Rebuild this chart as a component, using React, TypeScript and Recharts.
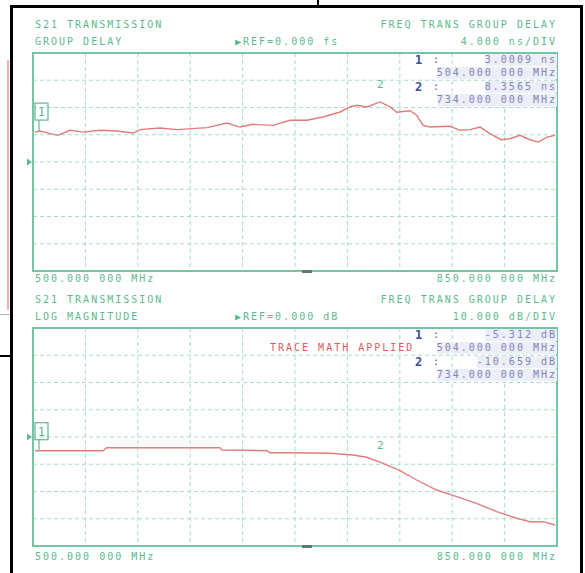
import React from 'react';
import { LineChart, Line, XAxis, YAxis, CartesianGrid, ReferenceArea, ReferenceDot } from 'recharts';

// ---------- data ----------
const delayFreqMHz = [501.3, 504.7, 511.4, 516.7, 524.7, 533.4, 544.8, 556.1, 566.8, 571.5, 584.8, 596.2, 606.2, 616.2, 629.6, 638.3, 646.9, 660.3, 671.7, 682.8, 693.7, 705.1, 711.7, 716.2, 722.9, 731.8, 738.5, 742.9, 751.8, 756.3, 760.5, 765.2, 778.5, 785.2, 791.9, 798.6, 805.3, 812.6, 818.7, 825.3, 832.0, 837.4, 843.3, 848.7];
const delayNs = [4.39, 4.54, 4.16, 3.91, 4.65, 4.39, 4.65, 4.54, 4.25, 4.75, 4.98, 4.75, 4.9, 5.04, 5.72, 5.13, 5.53, 5.38, 6.12, 6.12, 6.61, 7.34, 8.08, 8.33, 8.08, 8.82, 8.08, 7.3, 7.52, 6.86, 5.38, 5.13, 5.24, 4.65, 4.75, 5.13, 4.16, 3.27, 3.42, 3.91, 3.27, 2.92, 3.66, 3.91];

const magFreqMHz = [501.3, 546.8, 549.2, 578.1, 624.9, 626.0, 656.1, 658.3, 671.7, 698.4, 713.7, 722.9, 733.8, 745.1, 756.3, 769.6, 783.0, 796.3, 809.7, 823.1, 832.0, 840.8, 848.7];
const magDb = [-5.03, -5.03, -3.93, -3.93, -3.93, -4.77, -5.03, -5.76, -5.76, -5.98, -6.61, -7.45, -9.65, -12.37, -15.78, -19.45, -21.91, -24.33, -27.41, -29.83, -31.08, -31.08, -32.3];

const freqTicks = [500, 535, 570, 605, 640, 675, 710, 745, 780, 815, 850];
const delayTicks = [-16, -12, -8, -4, 0, 4, 8, 12, 16];
const magTicks = [-40, -30, -20, -10, 0, 10, 20, 30, 40];

const marker1MHz = 504;
const marker2MHz = 734;
const midMarkMHz = 683;

const upperTexts = {
  title: 'S21 TRANSMISSION',
  format: 'GROUP DELAY',
  ref: '\u25B6REF=0.000 fs',
  mode: 'FREQ TRANS GROUP DELAY',
  scale: '4.000 ns/DIV',
  m1val: '3.0009 ns',
  m1freq: '504.000 000 MHz',
  m2val: '8.3565 ns',
  m2freq: '734.000 000 MHz',
};
const lowerTexts = {
  title: 'S21 TRANSMISSION',
  format: 'LOG MAGNITUDE',
  ref: '\u25B6REF=0.000 dB',
  mode: 'FREQ TRANS GROUP DELAY',
  scale: '10.000 dB/DIV',
  m1val: '-5.312 dB',
  m1freq: '504.000 000 MHz',
  m2val: '-10.659 dB',
  m2freq: '734.000 000 MHz',
};
const startLabel = '500.000 000 MHz';
const stopLabel = '850.000 000 MHz';
const traceMath = 'TRACE MATH APPLIED';

// ---------- styles ----------
const GREEN = '#5bb98f';
const GRID = '#a9dcc6';
const BORDER = '#72c6a2';
const TRACE = '#e27c7c';
const BLUE = '#3d4c9e';
const READ = '#7f86b4';

const font: React.CSSProperties = {
  position: 'absolute',
  fontFamily: '"DejaVu Sans Mono", monospace',
  fontSize: 10,
  letterSpacing: 2,
  lineHeight: '12px',
  whiteSpace: 'pre',
  color: GREEN,
};

function T(props: { x?: number; r?: number; y: number; c?: string; bg?: string; bold?: boolean; size?: number; children: React.ReactNode }) {
  const st: React.CSSProperties = { ...font, top: props.y - 6 };
  if (props.x !== undefined) st.left = props.x;
  if (props.r !== undefined) st.right = 585 - props.r - 2;
  if (props.c) st.color = props.c;
  if (props.bg) st.background = props.bg;
  if (props.bold) st.fontWeight = 'bold';
  if (props.size) st.fontSize = props.size;
  return <div style={st}>{props.children}</div>;
}

const refArrow = (p: any) => (
  <polygon points={`${p.cx - 6},${p.cy - 3.5} ${p.cx - 6},${p.cy + 3.5} ${p.cx - 1},${p.cy}`} fill={GREEN} />
);
const m1Shape = (p: any) => (
  <g>
    <rect x={p.cx - 4} y={p.cy - 28} width={13} height={17} fill="none" stroke={GREEN} strokeWidth={1.2} />
    <text x={p.cx + 2.5} y={p.cy - 15} textAnchor="middle" fontSize={12} fontFamily='"DejaVu Sans Mono", monospace' fill={GREEN}>1</text>
    <line x1={p.cx} y1={p.cy - 11} x2={p.cx} y2={p.cy} stroke={GREEN} strokeWidth={1.2} />
  </g>
);
const m2Shape = (p: any) => (
  <text x={p.cx - 3} y={p.cy - 14} textAnchor="middle" fontSize={11} fontFamily='"DejaVu Sans Mono", monospace' fill={GREEN}>2</text>
);
const midMark = (p: any) => <rect x={p.cx - 5} y={p.cy - 1} width={10} height={3} fill="#5a7c6c" />;

function Panel(props: { top: number; data: { f: number; v: number }[]; ticks: number[]; m1: number; m2: number }) {
  const lo = props.ticks[0];
  const hi = props.ticks[props.ticks.length - 1];
  return (
    <div style={{ position: 'absolute', left: 0, top: props.top }}>
      <LineChart width={585} height={290} data={props.data} margin={{ top: 53, right: 28, bottom: 19, left: 33 }}>
        <XAxis dataKey="f" type="number" domain={[500, 850]} ticks={freqTicks} hide />
        <YAxis type="number" domain={[lo, hi]} ticks={props.ticks} hide />
        <CartesianGrid stroke={GRID} strokeDasharray="4 3" strokeWidth={1} />
        <ReferenceArea x1={500} x2={850} y1={lo} y2={hi} fill="none" fillOpacity={0} stroke={BORDER} strokeWidth={2} ifOverflow="visible" />
        <Line dataKey="v" type="linear" stroke={TRACE} strokeWidth={1.4} dot={false} isAnimationActive={false} />
        <ReferenceDot x={500} y={0} shape={refArrow} ifOverflow="visible" />
        <ReferenceDot x={marker1MHz} y={props.m1} shape={m1Shape} ifOverflow="visible" />
        <ReferenceDot x={marker2MHz} y={props.m2} shape={m2Shape} ifOverflow="visible" />
        <ReferenceDot x={midMarkMHz} y={lo} shape={midMark} ifOverflow="visible" />
      </LineChart>
    </div>
  );
}

function Header(props: { y0: number; t: typeof upperTexts }) {
  const y = props.y0;
  const t = props.t;
  return (
    <>
      <T x={35} y={y}>{t.title}</T>
      <T x={35} y={y + 17}>{t.format}</T>
      <T x={235} y={y + 17}>{t.ref}</T>
      <T r={555} y={y}>{t.mode}</T>
      <T r={555} y={y + 17}>{t.scale}</T>
      <T x={415} y={y + 35} c={BLUE} bold size={12}>1</T>
      <T x={433} y={y + 35} c={BLUE}>:</T>
      <T r={555} y={y + 35} c={READ} bg="#eceef8">{t.m1val}</T>
      <T r={555} y={y + 48} c={READ} bg="#eceef8">{t.m1freq}</T>
      <T x={415} y={y + 62} c={BLUE} bold size={12}>2</T>
      <T x={433} y={y + 62} c={BLUE}>:</T>
      <T r={555} y={y + 62} c={READ} bg="#eceef8">{t.m2val}</T>
      <T r={555} y={y + 75} c={READ} bg="#eceef8">{t.m2freq}</T>
    </>
  );
}

export default function App() {
  const upper = delayFreqMHz.map((f, i) => ({ f, v: delayNs[i] }));
  const lower = magFreqMHz.map((f, i) => ({ f, v: magDb[i] }));
  return (
    <div style={{ position: 'absolute', left: 0, top: 0, width: 585, height: 573, background: '#ffffff', overflow: 'hidden' }}>
      {/* surrounding frame / clutter */}
      <div style={{ position: 'absolute', left: 10, top: 5, width: 573, height: 3, background: '#000' }} />
      <div style={{ position: 'absolute', left: 10, top: 5, width: 3, height: 568, background: '#000' }} />
      <div style={{ position: 'absolute', left: 580, top: 5, width: 3, height: 568, background: '#000' }} />
      <div style={{ position: 'absolute', left: 317, top: 0, width: 2, height: 6, background: '#000' }} />
      <div style={{ position: 'absolute', left: 0, top: 355, width: 10, height: 2, background: '#000' }} />
      <div style={{ position: 'absolute', left: 0, top: 314, width: 10, height: 1, background: '#b0b0b0' }} />
      <div style={{ position: 'absolute', left: 7, top: 60, width: 1.5, height: 250, background: '#f0b0b0' }} />

      <Panel top={0} data={upper} ticks={delayTicks} m1={delayNs[1]} m2={delayNs[25]} />
      <Panel top={275} data={lower} ticks={magTicks} m1={-5.03} m2={magDb[12]} />

      <Header y0={25} t={upperTexts} />
      <T x={35} y={279}>{startLabel}</T>
      <T r={555} y={279}>{stopLabel}</T>

      <Header y0={300} t={lowerTexts} />
      <T x={270} y={348} c="#e05a5a">{traceMath}</T>
      <T x={35} y={557}>{startLabel}</T>
      <T r={555} y={557}>{stopLabel}</T>
    </div>
  );
}
